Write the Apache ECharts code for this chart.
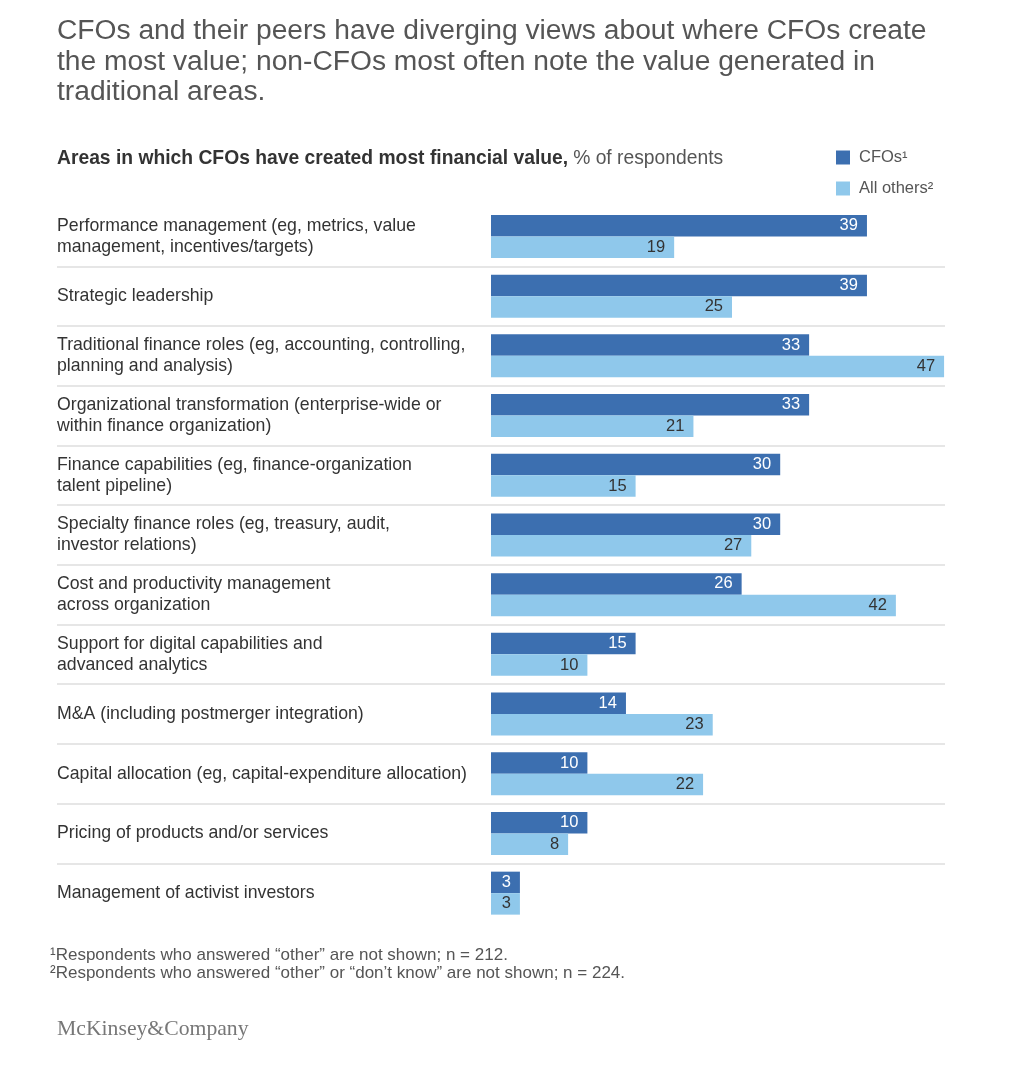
<!DOCTYPE html>
<html><head><meta charset="utf-8">
<script src="https://cdn.jsdelivr.net/npm/echarts@6/dist/echarts.min.js"></script>
<style>html,body{margin:0;padding:0;background:#fff}#c{width:1018px;height:1080px}</style>
</head><body><div id="c"></div>
<script>
const categories = [
  'Performance management (eg, metrics, value\nmanagement, incentives/targets)',
  'Strategic leadership',
  'Traditional finance roles (eg, accounting, controlling,\nplanning and analysis)',
  'Organizational transformation (enterprise-wide or\nwithin finance organization)',
  'Finance capabilities (eg, finance-organization\ntalent pipeline)',
  'Specialty finance roles (eg, treasury, audit,\ninvestor relations)',
  'Cost and productivity management\nacross organization',
  'Support for digital capabilities and\nadvanced analytics',
  'M&A (including postmerger integration)',
  'Capital allocation (eg, capital-expenditure allocation)',
  'Pricing of products and/or services',
  'Management of activist investors'
];
const cfos = [39, 39, 33, 33, 30, 30, 26, 15, 14, 10, 10, 3];
const allOthers = [19, 25, 47, 21, 15, 27, 42, 10, 23, 22, 8, 3];
const seriesNames = ['CFOs', 'All others'];
const legendLabels = { 'CFOs': 'CFOs¹', 'All others': 'All others²' };
const titleText = 'CFOs and their peers have diverging views about where CFOs create\nthe most value; non-CFOs most often note the value generated in\ntraditional areas.';
const footnotes = '¹Respondents who answered “other” are not shown; n = 212.\n²Respondents who answered “other” or “don’t know” are not shown; n = 224.';

const FONT = '"Liberation Sans", Arial, Helvetica, sans-serif';
const chart = echarts.init(document.getElementById('c'), null, { renderer: 'canvas' });
const TOP = 206.6, BOTTOM = 157;

chart.setOption({
  backgroundColor: '#fff',
  textStyle: { fontFamily: FONT },
  title: [
    { text: titleText, left: 52, top: 11,
      textStyle: { fontFamily: FONT, fontSize: 28.2, fontWeight: 'normal', color: '#555', lineHeight: 30.5 } },
    { text: '{b|Areas in which CFOs have created most financial value,} {r|% of respondents}', left: 52, top: 144,
      textStyle: { fontWeight: 'normal', rich: {
        b: { fontFamily: FONT, fontSize: 19.3, fontWeight: 'bold', color: '#333', verticalAlign: 'middle' },
        r: { fontFamily: FONT, fontSize: 19.3, fontWeight: 'normal', color: '#555', verticalAlign: 'middle' } } } },
    { text: footnotes, left: 45, top: 941,
      textStyle: { fontFamily: FONT, fontSize: 17, fontWeight: 'normal', color: '#555', lineHeight: 18 } },
    { text: 'McKinsey&Company', left: 52, top: 1013,
      textStyle: { fontFamily: '"Liberation Serif", "DejaVu Serif", serif', fontSize: 21.7, fontWeight: 'normal', color: '#777' } }
  ],
  legend: {
    data: seriesNames, orient: 'vertical', left: 831, top: 144,
    itemWidth: 14, itemHeight: 14, itemGap: 14, icon: 'rect',
    formatter: n => legendLabels[n],
    textStyle: { fontFamily: FONT, fontSize: 16.5, color: '#555', padding: [0, 0, 0, 4] }
  },
  grid: [
    { left: 491, right: 45, top: TOP, bottom: BOTTOM, containLabel: false },
    { left: 57, right: 73, top: TOP, bottom: BOTTOM, containLabel: false }
  ],
  xAxis: [
    { gridIndex: 0, type: 'value', min: 0, max: 50, show: false },
    { gridIndex: 1, type: 'value', min: 0, max: 1, show: false }
  ],
  yAxis: [
    { gridIndex: 0, type: 'category', data: categories, inverse: true,
      axisLine: { show: false }, axisTick: { show: false }, splitLine: { show: false },
      axisLabel: { align: 'left', margin: 434, fontFamily: FONT, fontSize: 17.7, color: '#333', lineHeight: 21 } },
    { gridIndex: 1, type: 'value', min: 0, max: categories.length, interval: 1, inverse: true,
      axisLine: { show: false }, axisTick: { show: false }, axisLabel: { show: false },
      splitLine: { show: true, showMinLine: false, showMaxLine: false, lineStyle: { color: '#dedede', width: 1.5 } } }
  ],
  series: [
    { name: seriesNames[0], type: 'bar', data: cfos, xAxisIndex: 0, yAxisIndex: 0,
      barGap: '0%', barCategoryGap: '28%', itemStyle: { color: '#3c6fb0' },
      label: { show: true, position: 'insideRight', distance: 9, fontFamily: FONT, fontSize: 16.5, color: '#fff' } },
    { name: seriesNames[1], type: 'bar', data: allOthers, xAxisIndex: 0, yAxisIndex: 0,
      barGap: '0%', barCategoryGap: '28%', itemStyle: { color: '#8fc8eb' },
      label: { show: true, position: 'insideRight', distance: 9, fontFamily: FONT, fontSize: 16.5, color: '#333' } }
  ]
});
</script></body></html>
